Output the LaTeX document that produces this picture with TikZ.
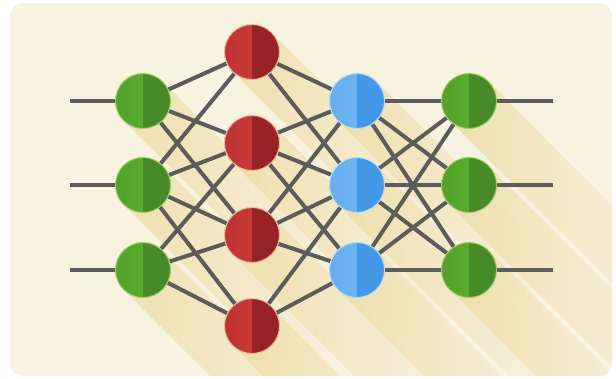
\documentclass[tikz,border=0pt]{standalone}
\pgfdeclarelayer{shadowlayer}
\pgfdeclarelayer{edgelayer}
\pgfsetlayers{shadowlayer,edgelayer,main}

\definecolor{page}{HTML}{F8F2E1}
\definecolor{shadowc}{HTML}{EDDCA4}
\definecolor{wire}{HTML}{5E5B5B}
\definecolor{gL}{HTML}{62B633}\definecolor{gLd}{HTML}{52A12B}\definecolor{gR}{HTML}{468B28}\definecolor{gRim}{HTML}{9ACF5E}
\definecolor{rL}{HTML}{D23F3F}\definecolor{rLd}{HTML}{BE3234}\definecolor{rR}{HTML}{962325}\definecolor{rRim}{HTML}{EDB39C}
\definecolor{bL}{HTML}{74B9F1}\definecolor{bLd}{HTML}{66AEEE}\definecolor{bR}{HTML}{4399E7}\definecolor{bRim}{HTML}{B4DAF6}

\tikzset{
  neuron/.style n args={4}{circle, minimum size=55pt, inner sep=0pt,
    draw=#4, line width=1pt,
    path picture={
      \shade[left color=#1, right color=#2]
        (path picture bounding box.south west) rectangle (path picture bounding box.north);
      \fill[#3]
        (path picture bounding box.north) rectangle (path picture bounding box.south east);}},
  greenN/.style={neuron={gLd}{gL}{gR}{gRim}},
  redN/.style={neuron={rLd}{rL}{rR}{rRim}},
  blueN/.style={neuron={bLd}{bL}{bR}{bRim}},
  wireline/.style={draw=wire, line width=4pt},
  longshadow/.style={left color=shadowc, middle color=shadowc!55!page, right color=page, opacity=0.8}
}

\begin{document}
\begin{tikzpicture}[x=1pt, y=-1pt]
\useasboundingbox (0,0) rectangle (616,378);

% neurons
\node[greenN] (g1) at (143,101) {};
\node[greenN] (g2) at (143,185) {};
\node[greenN] (g3) at (143,270) {};
\node[redN] (r1) at (252,52) {};
\node[redN] (r2) at (252,143) {};
\node[redN] (r3) at (252,235) {};
\node[redN] (r4) at (252,326) {};
\node[blueN] (b1) at (357,101) {};
\node[blueN] (b2) at (357,185) {};
\node[blueN] (b3) at (357,270) {};
\node[greenN] (o1) at (469,101) {};
\node[greenN] (o2) at (469,185) {};
\node[greenN] (o3) at (469,270) {};

% free ends of the input and output wires
\coordinate (in1) at (70,101);
\coordinate (in2) at (70,185);
\coordinate (in3) at (70,270);
\coordinate (out1) at (553,101);
\coordinate (out2) at (553,185);
\coordinate (out3) at (553,270);

% card and long shadows
\begin{pgfonlayer}{shadowlayer}
  \fill[page, rounded corners=12pt] (10,3) rectangle (612,376);
  \begin{scope}
    \clip[rounded corners=12pt] (10,3) rectangle (612,376);
    \foreach \n in {g1,g2,g3,r1,r2,r3,r4,b1,b2,b3,o1,o2,o3}{
      \begin{scope}[shift={(\n.center)}, rotate=-45]
        \shade[longshadow] (0,-27.5) rectangle (260,27.5);
      \end{scope}
    }
  \end{scope}
\end{pgfonlayer}

% connections
\begin{pgfonlayer}{edgelayer}
  \foreach \i in {1,2,3}{
    \draw[wireline] (in\i) -- (g\i);
    \draw[wireline] (o\i) -- (out\i);
  }
  % input layer to first hidden layer
  \foreach \a/\b in {g1/r1,g1/r2,g1/r3,
                     g2/r1,g2/r2,g2/r3,g2/r4,
                     g3/r2,g3/r3,g3/r4}
    \draw[wireline] (\a) -- (\b);
  % first hidden layer to second hidden layer
  \foreach \a/\b in {r1/b1,r1/b2,
                     r2/b1,r2/b2,r2/b3,
                     r3/b1,r3/b2,r3/b3,
                     r4/b2,r4/b3}
    \draw[wireline] (\a) -- (\b);
  % second hidden layer to output layer
  \foreach \i in {1,2,3}{
    \foreach \j in {1,2,3}{
      \draw[wireline] (b\i) -- (o\j);
    }
  }
\end{pgfonlayer}
\end{tikzpicture}
\end{document}
